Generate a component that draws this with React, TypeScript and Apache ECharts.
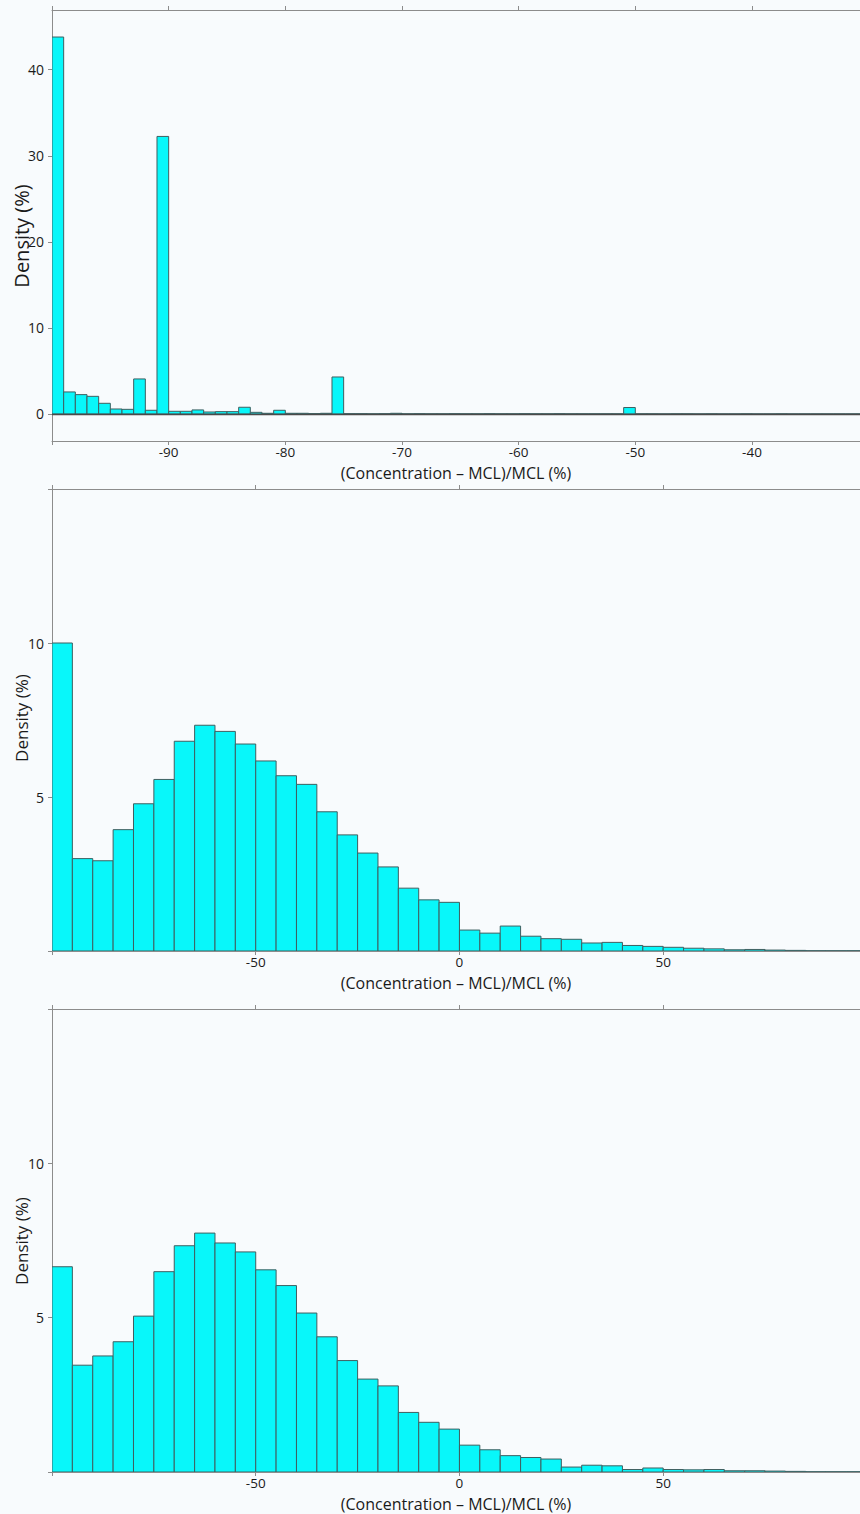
import React, { useEffect, useRef } from "react";
import * as echarts from "echarts";

// ---------- data ----------
const X_TITLE = "(Concentration – MCL)/MCL (%)";
const Y_TITLE = "Density (%)";

// Panel 1: bins of width 1 starting at -100
const p1BinStart = -100;
const p1BinWidth = 1;
const p1Density = [
  43.8, 2.56, 2.25, 2.05, 1.24, 0.58, 0.54, 4.07, 0.43, 32.25,
  0.31, 0.31, 0.47, 0.23, 0.27, 0.27, 0.78, 0.19, 0.08, 0.43,
  0.08, 0.08, 0.04, 0.08, 4.3, 0.03, 0.03, 0.02, 0.03, 0.08,
  0.02, 0.03, 0.02, 0.02, 0.03, 0.02, 0.02, 0.03, 0.02, 0.02,
  0.03, 0.02, 0.02, 0.03, 0.02, 0.02, 0.02, 0.02, 0.02, 0.75,
  0.02, 0.02, 0.01, 0.02, 0.02, 0.01, 0.02, 0.01, 0.01, 0.02,
  0.01, 0.01, 0.02, 0.01, 0.01, 0.01, 0.01, 0.01, 0.01, 0.01,
];
const p1XTicks = [-100, -90, -80, -70, -60, -50, -40];
const p1XLabels = [-90, -80, -70, -60, -50, -40];
const p1YTicks = [0, 10, 20, 30, 40];
const p1YLabels = [0, 10, 20, 30, 40];

// Panels 2 and 3: bins of width 5 starting at -100
const p23BinStart = -100;
const p23BinWidth = 5;
const p2Density = [
  10.0, 3.0, 2.93, 3.94, 4.78, 5.57, 6.81, 7.33, 7.13, 6.72,
  6.17, 5.69, 5.41, 4.52, 3.77, 3.18, 2.73, 2.04, 1.66, 1.58,
  0.68, 0.58, 0.81, 0.48, 0.4, 0.38, 0.26, 0.28, 0.18, 0.15,
  0.12, 0.09, 0.07, 0.04, 0.05, 0.03, 0.02, 0.01, 0.01, 0.01,
];
const p3Density = [
  6.65, 3.46, 3.76, 4.22, 5.05, 6.49, 7.33, 7.74, 7.42, 7.13,
  6.55, 6.04, 5.15, 4.38, 3.61, 3.01, 2.79, 1.93, 1.61, 1.39,
  0.87, 0.72, 0.53, 0.47, 0.42, 0.16, 0.22, 0.2, 0.08, 0.13,
  0.08, 0.07, 0.08, 0.04, 0.04, 0.03, 0.02, 0.01, 0.01, 0.01,
];
const p23XTicks = [-100, -50, 0, 50];
const p23XLabels = [-50, 0, 50];
const p23YTicks = [0, 5, 10, 15];
const p23YLabels = [5, 10];

// ---------- style ----------
const BG = "#f8fbfd";
const FILL = "#08f7fa";
const EDGE = "#3f5f60";
const AXIS = "#8c8c8c";
const TEXT = "#1a1a1a";
const FONT = "Open Sans";

const toBins = (start: number, width: number, vals: number[]) =>
  vals.map((v, i) => [start + i * width, v]);

const histSeries = (idx: number, width: number, data: number[][], zeroLine: boolean) => ({
  type: "custom",
  xAxisIndex: idx * 2,
  yAxisIndex: idx,
  clip: true,
  data,
  renderItem: (params: any, api: any) => {
    const x0 = api.value(0);
    const v = api.value(1);
    const p0 = api.coord([x0, v]);
    const p1 = api.coord([x0 + width, 0]);
    return {
      type: "rect",
      shape: { x: p0[0], y: p0[1], width: p1[0] - p0[0], height: p1[1] - p0[1] },
      style: { fill: FILL, stroke: EDGE, lineWidth: 1 },
    };
  },
  markLine: zeroLine
    ? {
        silent: true,
        symbol: "none",
        label: { show: false },
        lineStyle: { color: "#4a4a4a", type: "solid", width: 1.3 },
        data: [{ yAxis: 0 }],
      }
    : undefined,
});

const xAxisPair = (
  grid: number,
  min: number,
  max: number,
  ticks: number[],
  labels: number[]
) => [
  {
    type: "value",
    gridIndex: grid,
    position: "bottom",
    min,
    max,
    name: X_TITLE,
    nameLocation: "middle",
    nameGap: 24,
    nameTextStyle: { fontFamily: FONT, fontSize: 16, lineHeight: 16, color: TEXT },
    axisLine: { show: true, onZero: false, lineStyle: { color: AXIS, width: 1 } },
    axisTick: { show: true, inside: false, length: 4, customValues: ticks, lineStyle: { color: AXIS } },
    axisLabel: { show: true, margin: 4, customValues: labels, fontFamily: FONT, fontSize: 13.5, lineHeight: 14, color: TEXT },
    splitLine: { show: false },
  },
  {
    type: "value",
    gridIndex: grid,
    position: "top",
    min,
    max,
    axisLine: { show: true, onZero: false, lineStyle: { color: AXIS, width: 1 } },
    axisTick: { show: true, inside: false, length: 4, customValues: ticks, lineStyle: { color: AXIS } },
    axisLabel: { show: false },
    splitLine: { show: false },
  },
];

const yAxisOf = (grid: number, min: number, max: number, ticks: number[], labels: number[]) => ({
  type: "value",
  gridIndex: grid,
  min,
  max,
  axisLine: { show: true, onZero: false, lineStyle: { color: AXIS, width: 1 } },
  axisTick: { show: true, inside: false, length: 4, customValues: ticks, lineStyle: { color: AXIS } },
  axisLabel: { show: true, margin: 8, customValues: labels, fontFamily: FONT, fontSize: 14, color: TEXT },
  splitLine: { show: false },
});

export default function App() {
  const ref = useRef<HTMLDivElement>(null);

  useEffect(() => {
    document.body.style.margin = "0";
    document.body.style.background = BG;
    if (!ref.current) return;
    const chart = echarts.init(ref.current, undefined, { renderer: "svg" });

    const option: any = {
      animation: false,
      backgroundColor: BG,
      grid: [
        { left: 52, right: 0, top: 10, height: 431 },
        { left: 52, right: 0, top: 489, height: 462 },
        { left: 52, right: 0, top: 1009, height: 463 },
      ],
      xAxis: [
        ...xAxisPair(0, -100, -30.74, p1XTicks, p1XLabels),
        ...xAxisPair(1, -100, 98.3, p23XTicks, p23XLabels),
        ...xAxisPair(2, -100, 98.3, p23XTicks, p23XLabels),
      ],
      yAxis: [
        yAxisOf(0, -3.14, 46.94, p1YTicks, p1YLabels),
        yAxisOf(1, 0, 15, p23YTicks, p23YLabels),
        yAxisOf(2, 0, 15, p23YTicks, p23YLabels),
      ],
      graphic: [
        { type: "text", x: 21, y: 236, rotation: Math.PI / 2, style: { text: Y_TITLE, align: "center", verticalAlign: "middle", fontFamily: FONT, fontSize: 20, fill: TEXT } },
        { type: "text", x: 21, y: 718, rotation: Math.PI / 2, style: { text: Y_TITLE, align: "center", verticalAlign: "middle", fontFamily: FONT, fontSize: 17, fill: TEXT } },
        { type: "text", x: 21, y: 1241, rotation: Math.PI / 2, style: { text: Y_TITLE, align: "center", verticalAlign: "middle", fontFamily: FONT, fontSize: 17, fill: TEXT } },
      ],
      series: [
        histSeries(0, p1BinWidth, toBins(p1BinStart, p1BinWidth, p1Density), true),
        histSeries(1, p23BinWidth, toBins(p23BinStart, p23BinWidth, p2Density), false),
        histSeries(2, p23BinWidth, toBins(p23BinStart, p23BinWidth, p3Density), false),
      ],
    };
    chart.setOption(option);
    return () => chart.dispose();
  }, []);

  return <div ref={ref} style={{ width: 860, height: 1514, background: BG }} />;
}
